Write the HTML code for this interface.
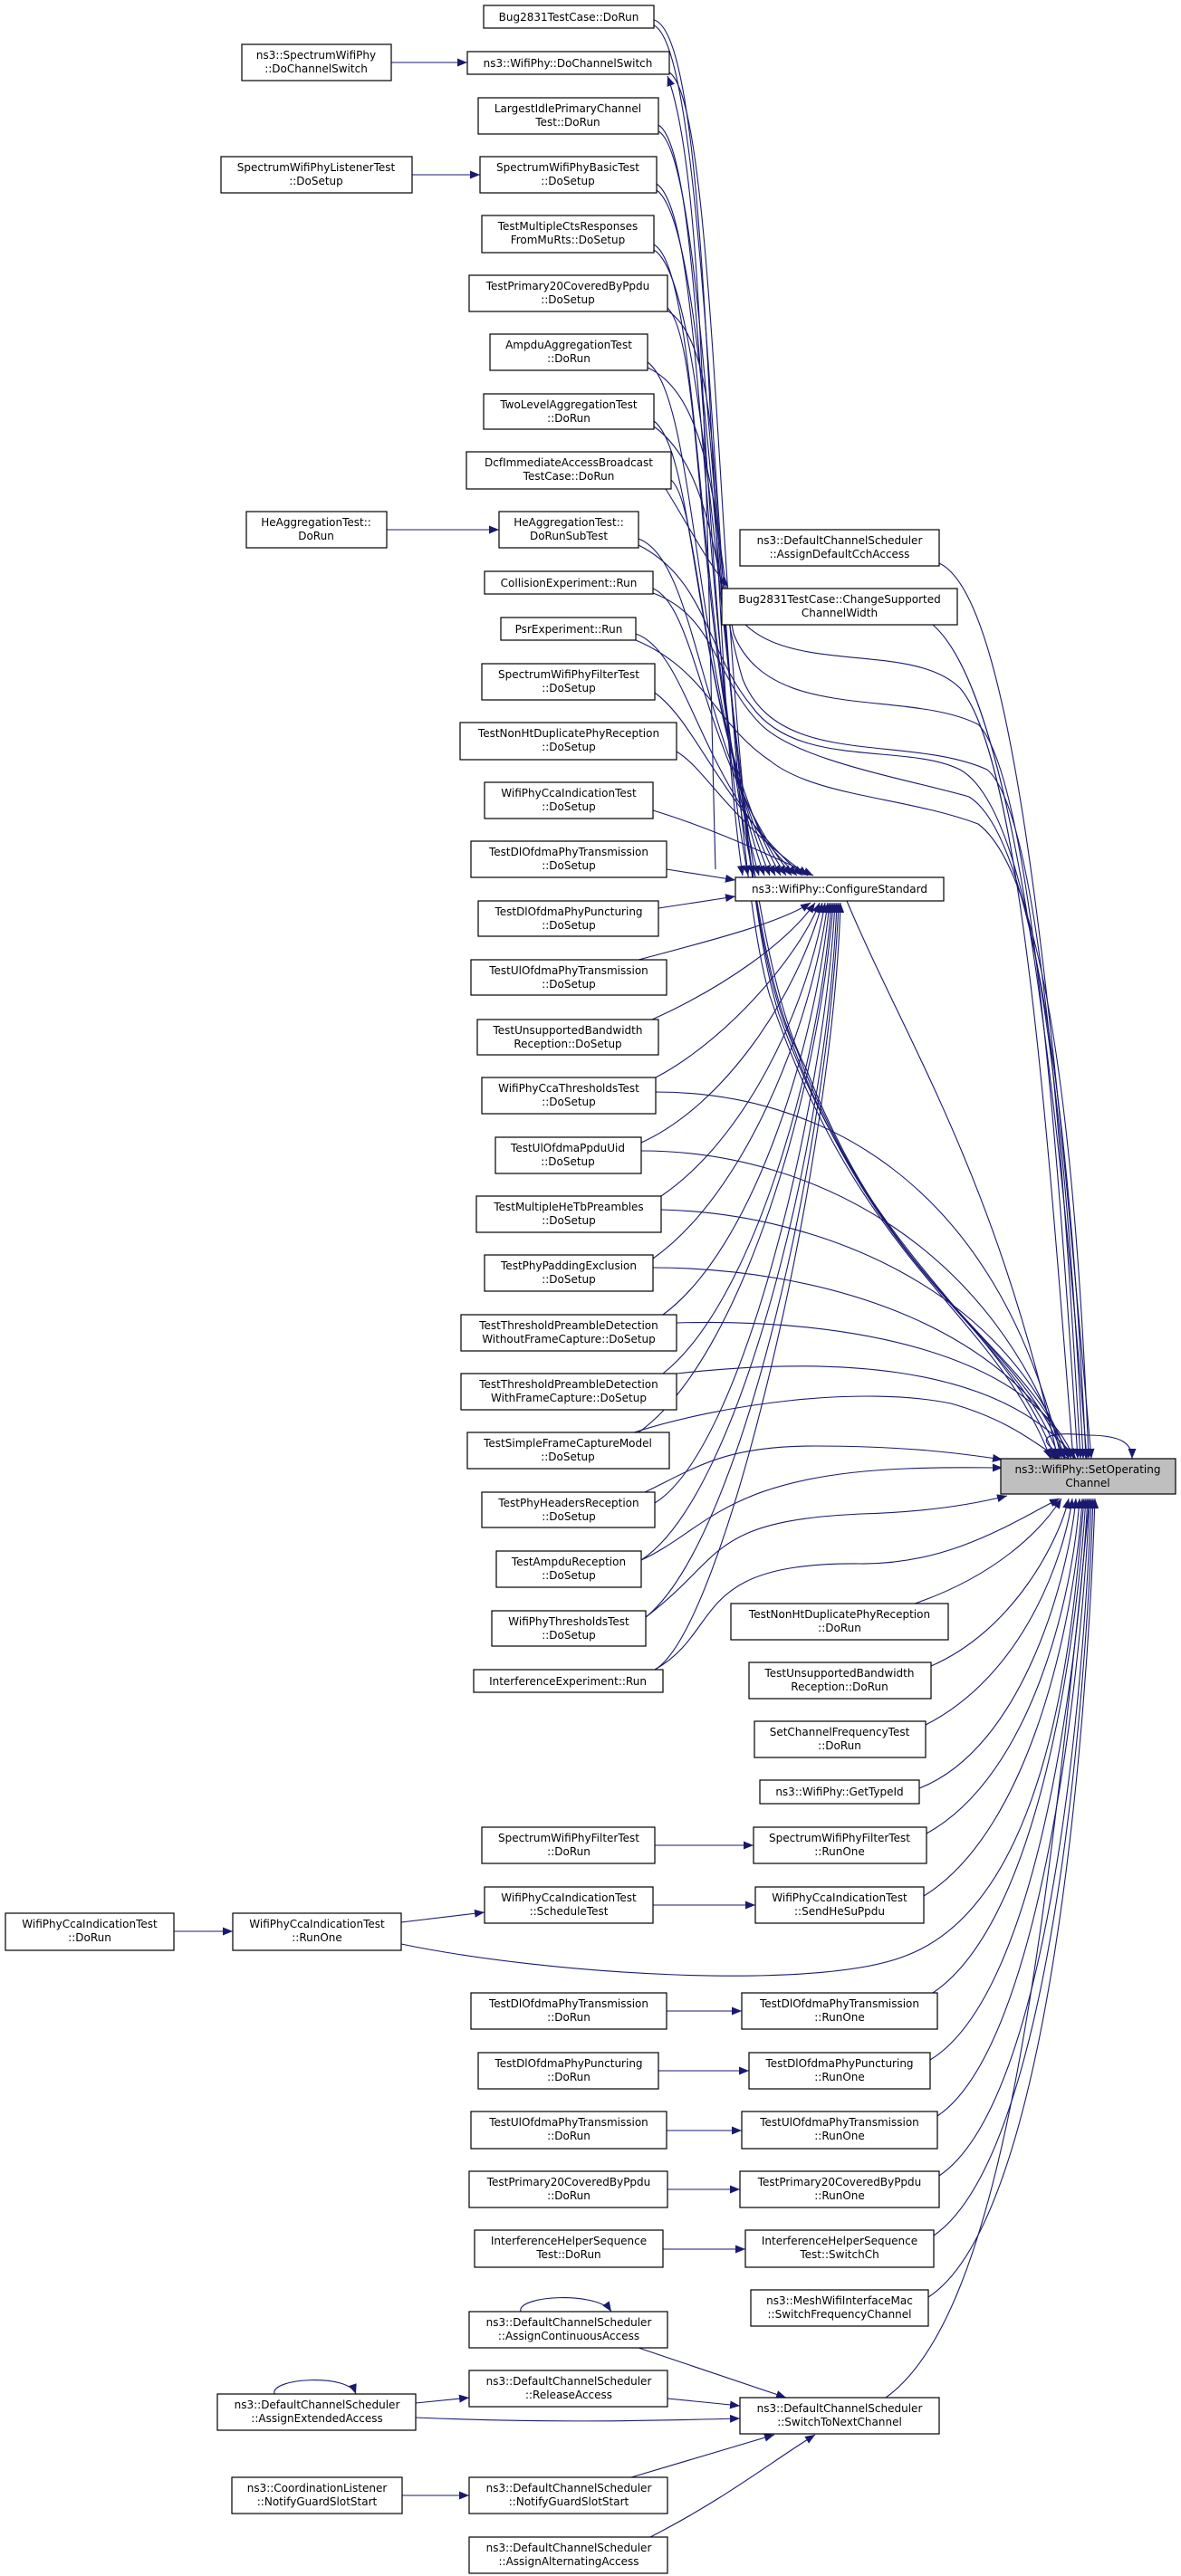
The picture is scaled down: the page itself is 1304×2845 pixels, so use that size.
<!DOCTYPE html>
<html><head><meta charset="utf-8"><style>
html,body{margin:0;padding:0;background:#fff;}
svg{display:block;}
text{font-family:"DejaVu Sans","Liberation Sans",sans-serif;font-size:12px;fill:#000;text-anchor:middle;}
rect{fill:#fff;stroke:#000;stroke-width:1.2;}
path.e{fill:none;stroke:#191970;stroke-width:1.1;}
</style></head><body>
<svg width="1304" height="2845" viewBox="0 0 1304 2845" xmlns="http://www.w3.org/2000/svg">
<defs><marker id="a" markerUnits="userSpaceOnUse" markerWidth="11" markerHeight="9" refX="11" refY="4.5" orient="auto"><path d="M0,0 L11,4.5 L0,9 z" fill="#191970"/></marker></defs>
<g marker-end="url(#a)">
<!-- simple left arrows -->
<path class="e" d="M432,69 L516,69"/>
<path class="e" d="M455,193 L530,193"/>
<path class="e" d="M427,585 L551,585"/>
<path class="e" d="M735,540 C760,580 780,620 804,648"/>
<path class="e" d="M723,2038 L832,2038"/>
<path class="e" d="M721,2104 L834,2104"/>
<path class="e" d="M192,2133 L257,2133"/>
<path class="e" d="M443,2123 L535,2112"/>
<path class="e" d="M736,2221 L819,2221"/>
<path class="e" d="M727,2287 L827,2287"/>
<path class="e" d="M736,2353 L819,2353"/>
<path class="e" d="M737,2418 L817,2418"/>
<path class="e" d="M732,2484 L823,2484"/>
<path class="e" d="M444,2756 L518,2756"/>
<path class="e" d="M459,2654 L518,2648"/>
<path class="e" d="M459,2670 C600,2676 700,2674 817,2671"/>
<path class="e" d="M737,2649 L817,2657"/>
<path class="e" d="M705,2593 L868,2648"/>
<path class="e" d="M697,2736 L855,2689"/>
<path class="e" d="M718,2802 C800,2760 850,2720 900,2689"/>
<path class="e" d="M575,2553 C570,2535 660,2530 675,2553"/>
<path class="e" d="M303,2644 C298,2626 385,2621 393,2644"/>
<!-- up to DoChannelSwitch -->
<path class="e" d="M790,960 C780,600 780,200 737,84"/>
<!-- upper nodes to ConfigureStandard top -->
<path class="e" d="M722,22 C790,40 780,700 820,967"/>
<path class="e" d="M727,138 C780,170 775,700 826,967"/>
<path class="e" d="M725,203 C780,240 772,700 832,967"/>
<path class="e" d="M722,270 C775,300 768,720 838,967"/>
<path class="e" d="M737,340 C780,380 765,740 844,967"/>
<path class="e" d="M715,400 C770,440 765,760 850,967"/>
<path class="e" d="M722,465 C770,500 765,780 856,967"/>
<path class="e" d="M741,530 C775,560 770,800 862,967"/>
<path class="e" d="M705,595 C770,620 770,820 868,967"/>
<path class="e" d="M721,650 C770,670 775,840 874,967"/>
<path class="e" d="M702,700 C760,720 770,860 880,967"/>
<path class="e" d="M723,765 C770,800 790,880 886,967"/>
<path class="e" d="M747,830 C780,850 800,900 892,967"/>
<path class="e" d="M721,895 C770,910 820,930 898,967"/>
<path class="e" d="M736,960 L812,972"/>
<path class="e" d="M727,1003 L812,990"/>
<!-- upper nodes to SetOp via bundle -->
<path class="e" d="M722,28 C790,60 790,900 850,1100 C950,1400 1100,1450 1160,1611"/>
<path class="e" d="M739,80 C800,120 790,900 860,1120 C960,1400 1110,1460 1165,1611"/>
<path class="e" d="M727,145 C790,180 790,950 870,1140 C970,1420 1120,1470 1170,1611"/>
<path class="e" d="M725,210 C795,260 790,980 880,1160 C980,1430 1130,1480 1175,1611"/>
<path class="e" d="M722,276 C795,320 795,1000 890,1180 C990,1440 1140,1490 1180,1611"/>
<path class="e" d="M737,343 C795,380 785,550 800,650 C830,760 1000,700 1060,760 C1130,840 1160,1300 1185,1611"/>
<path class="e" d="M715,406 C790,440 790,600 810,700 C850,800 1000,760 1080,800 C1140,860 1170,1300 1190,1611"/>
<path class="e" d="M722,471 C790,520 790,650 820,750 C860,850 1000,810 1090,850 C1150,900 1175,1300 1193,1611"/>
<path class="e" d="M705,602 C780,640 780,720 830,780 C880,850 1000,820 1060,850 C1150,900 1180,1300 1196,1611"/>
<path class="e" d="M721,655 C790,680 790,750 840,800 C880,840 1000,860 1070,880 C1150,930 1185,1300 1199,1611"/>
<path class="e" d="M702,707 C780,740 790,800 850,840 C900,880 1000,880 1080,910 C1160,970 1190,1300 1202,1611"/>
<path class="e" d="M1037,622 C1120,660 1160,1100 1205,1611"/>
<path class="e" d="M1030,690 C1110,760 1160,1100 1200,1611"/>
<!-- ConfigureStandard to SetOp -->
<path class="e" d="M935,995 C1000,1150 1100,1300 1168,1611"/>
<!-- lower-left to ConfigureStandard bottom -->
<path class="e" d="M705,1060 C780,1040 860,1020 895,997"/>
<path class="e" d="M720,1126 C800,1090 870,1040 900,997"/>
<path class="e" d="M724,1190 C800,1150 880,1060 905,997"/>
<path class="e" d="M708,1262 C800,1220 880,1100 908,997"/>
<path class="e" d="M730,1321 C820,1260 890,1120 911,997"/>
<path class="e" d="M721,1390 C820,1320 895,1140 914,997"/>
<path class="e" d="M732,1452 C830,1380 900,1160 916,997"/>
<path class="e" d="M732,1517 C830,1440 905,1180 918,997"/>
<path class="e" d="M705,1582 C820,1500 905,1200 920,997"/>
<path class="e" d="M723,1660 C820,1600 910,1220 922,997"/>
<path class="e" d="M708,1723 C820,1650 915,1240 924,997"/>
<path class="e" d="M713,1786 C820,1700 915,1260 926,997"/>
<path class="e" d="M723,1844 C800,1800 920,1280 928,997"/>
<!-- lower-left to SetOp -->
<path class="e" d="M724,1206 C900,1206 1100,1300 1172,1611"/>
<path class="e" d="M708,1271 C900,1271 1100,1380 1176,1611"/>
<path class="e" d="M730,1336 C900,1340 1110,1420 1180,1611"/>
<path class="e" d="M721,1400 C900,1400 1110,1460 1183,1611"/>
<path class="e" d="M747,1461 C950,1455 1140,1500 1186,1611"/>
<path class="e" d="M747,1517 C900,1500 1100,1500 1188,1611"/>
<path class="e" d="M700,1582 C800,1550 950,1530 1050,1550 C1120,1570 1150,1600 1170,1611"/>
<path class="e" d="M712,1648 C770,1620 800,1597 900,1597 C1000,1597 1060,1605 1107,1612"/>
<path class="e" d="M708,1723 C780,1690 800,1630 1000,1622 C1050,1620 1080,1621 1107,1621"/>
<path class="e" d="M713,1786 C800,1720 780,1680 950,1672 C1030,1670 1080,1660 1112,1652"/>
<path class="e" d="M723,1844 C800,1800 760,1725 950,1727 C1050,1728 1120,1680 1170,1655"/>
<!-- right-lower to SetOp bottom -->
<path class="e" d="M1010,1771 C1100,1740 1150,1690 1172,1655"/>
<path class="e" d="M1028,1840 C1120,1800 1170,1700 1180,1655"/>
<path class="e" d="M1022,1905 C1130,1850 1175,1720 1184,1655"/>
<path class="e" d="M1015,1975 C1130,1930 1180,1740 1188,1655"/>
<path class="e" d="M1023,2025 C1140,1960 1185,1760 1192,1655"/>
<path class="e" d="M1020,2094 C1140,2020 1188,1780 1195,1655"/>
<path class="e" d="M443,2147 C600,2180 900,2200 1000,2160 C1160,2100 1185,1800 1197,1655"/>
<path class="e" d="M1030,2201 C1150,2120 1190,1800 1199,1655"/>
<path class="e" d="M1027,2275 C1150,2200 1192,1820 1201,1655"/>
<path class="e" d="M1035,2337 C1150,2260 1195,1840 1203,1655"/>
<path class="e" d="M1037,2403 C1160,2320 1197,1860 1205,1655"/>
<path class="e" d="M1031,2469 C1160,2380 1199,1880 1207,1655"/>
<path class="e" d="M1025,2537 C1160,2450 1201,1900 1209,1655"/>
<path class="e" d="M978,2648 C1100,2560 1150,2200 1203,1655"/>
<!-- self loop -->
<path class="e" d="M1180,1611 C1140,1590 1150,1580 1200,1585 C1240,1585 1250,1595 1250,1611"/>
</g>
<!-- nodes -->
<rect x="534" y="6" width="188" height="25"/><text x="628" y="23">Bug2831TestCase::DoRun</text>
<rect x="516" y="57" width="223" height="25"/><text x="627" y="74">ns3::WifiPhy::DoChannelSwitch</text>
<rect x="267" y="49" width="165" height="40"/><text x="349" y="65">ns3::SpectrumWifiPhy</text><text x="349" y="80">::DoChannelSwitch</text>
<rect x="528" y="108" width="199" height="40"/><text x="627" y="124">LargestIdlePrimaryChannel</text><text x="627" y="139">Test::DoRun</text>
<rect x="244" y="173" width="211" height="40"/><text x="349" y="189">SpectrumWifiPhyListenerTest</text><text x="349" y="204">::DoSetup</text>
<rect x="530" y="173" width="195" height="40"/><text x="627" y="189">SpectrumWifiPhyBasicTest</text><text x="627" y="204">::DoSetup</text>
<rect x="532" y="238" width="190" height="41"/><text x="627" y="254">TestMultipleCtsResponses</text><text x="627" y="269">FromMuRts::DoSetup</text>
<rect x="518" y="304" width="219" height="40"/><text x="627" y="320">TestPrimary20CoveredByPpdu</text><text x="627" y="335">::DoSetup</text>
<rect x="541" y="369" width="174" height="40"/><text x="628" y="385">AmpduAggregationTest</text><text x="628" y="400">::DoRun</text>
<rect x="534" y="435" width="188" height="39"/><text x="628" y="451">TwoLevelAggregationTest</text><text x="628" y="466">::DoRun</text>
<rect x="515" y="499" width="226" height="41"/><text x="628" y="515">DcfImmediateAccessBroadcast</text><text x="628" y="530">TestCase::DoRun</text>
<rect x="272" y="565" width="155" height="40"/><text x="349" y="581">HeAggregationTest::</text><text x="349" y="596">DoRun</text>
<rect x="551" y="565" width="154" height="40"/><text x="628" y="581">HeAggregationTest::</text><text x="628" y="596">DoRunSubTest</text>
<rect x="817" y="585" width="220" height="40"/><text x="927" y="601">ns3::DefaultChannelScheduler</text><text x="927" y="616">::AssignDefaultCchAccess</text>
<rect x="535" y="631" width="186" height="25"/><text x="628" y="648">CollisionExperiment::Run</text>
<rect x="797" y="650" width="260" height="40"/><text x="927" y="666">Bug2831TestCase::ChangeSupported</text><text x="927" y="681">ChannelWidth</text>
<rect x="553" y="682" width="149" height="25"/><text x="628" y="699">PsrExperiment::Run</text>
<rect x="532" y="733" width="191" height="40"/><text x="628" y="749">SpectrumWifiPhyFilterTest</text><text x="628" y="764">::DoSetup</text>
<rect x="508" y="798" width="239" height="41"/><text x="628" y="814">TestNonHtDuplicatePhyReception</text><text x="628" y="829">::DoSetup</text>
<rect x="535" y="864" width="186" height="40"/><text x="628" y="880">WifiPhyCcaIndicationTest</text><text x="628" y="895">::DoSetup</text>
<rect x="520" y="929" width="216" height="40"/><text x="628" y="945">TestDlOfdmaPhyTransmission</text><text x="628" y="960">::DoSetup</text>
<rect x="812" y="969" width="230" height="26"/><text x="927" y="986">ns3::WifiPhy::ConfigureStandard</text>
<rect x="528" y="995" width="199" height="39"/><text x="628" y="1011">TestDlOfdmaPhyPuncturing</text><text x="628" y="1026">::DoSetup</text>
<rect x="520" y="1060" width="216" height="39"/><text x="628" y="1076">TestUlOfdmaPhyTransmission</text><text x="628" y="1091">::DoSetup</text>
<rect x="527" y="1126" width="200" height="39"/><text x="627" y="1142">TestUnsupportedBandwidth</text><text x="627" y="1157">Reception::DoSetup</text>
<rect x="532" y="1190" width="192" height="40"/><text x="628" y="1206">WifiPhyCcaThresholdsTest</text><text x="628" y="1221">::DoSetup</text>
<rect x="547" y="1256" width="161" height="40"/><text x="627" y="1272">TestUlOfdmaPpduUid</text><text x="627" y="1287">::DoSetup</text>
<rect x="526" y="1321" width="204" height="40"/><text x="628" y="1337">TestMultipleHeTbPreambles</text><text x="628" y="1352">::DoSetup</text>
<rect x="535" y="1386" width="186" height="40"/><text x="628" y="1402">TestPhyPaddingExclusion</text><text x="628" y="1417">::DoSetup</text>
<rect x="509" y="1452" width="238" height="40"/><text x="628" y="1468">TestThresholdPreambleDetection</text><text x="628" y="1483">WithoutFrameCapture::DoSetup</text>
<rect x="509" y="1517" width="238" height="40"/><text x="628" y="1533">TestThresholdPreambleDetection</text><text x="628" y="1548">WithFrameCapture::DoSetup</text>
<rect x="516" y="1582" width="223" height="40"/><text x="627" y="1598">TestSimpleFrameCaptureModel</text><text x="627" y="1613">::DoSetup</text>
<rect x="1105" y="1611" width="193" height="39" style="fill:#bfbfbf"/><text x="1201" y="1627">ns3::WifiPhy::SetOperating</text><text x="1201" y="1642">Channel</text>
<rect x="532" y="1648" width="191" height="39"/><text x="628" y="1664">TestPhyHeadersReception</text><text x="628" y="1679">::DoSetup</text>
<rect x="548" y="1713" width="160" height="40"/><text x="628" y="1729">TestAmpduReception</text><text x="628" y="1744">::DoSetup</text>
<rect x="807" y="1771" width="240" height="40"/><text x="927" y="1787">TestNonHtDuplicatePhyReception</text><text x="927" y="1802">::DoRun</text>
<rect x="543" y="1779" width="170" height="39"/><text x="628" y="1795">WifiPhyThresholdsTest</text><text x="628" y="1810">::DoSetup</text>
<rect x="523" y="1844" width="209" height="25"/><text x="627" y="1861">InterferenceExperiment::Run</text>
<rect x="827" y="1836" width="201" height="40"/><text x="927" y="1852">TestUnsupportedBandwidth</text><text x="927" y="1867">Reception::DoRun</text>
<rect x="833" y="1901" width="189" height="40"/><text x="927" y="1917">SetChannelFrequencyTest</text><text x="927" y="1932">::DoRun</text>
<rect x="839" y="1966" width="176" height="26"/><text x="927" y="1983">ns3::WifiPhy::GetTypeId</text>
<rect x="532" y="2018" width="191" height="40"/><text x="628" y="2034">SpectrumWifiPhyFilterTest</text><text x="628" y="2049">::DoRun</text>
<rect x="832" y="2018" width="191" height="40"/><text x="927" y="2034">SpectrumWifiPhyFilterTest</text><text x="927" y="2049">::RunOne</text>
<rect x="535" y="2084" width="186" height="40"/><text x="628" y="2100">WifiPhyCcaIndicationTest</text><text x="628" y="2115">::ScheduleTest</text>
<rect x="834" y="2084" width="186" height="40"/><text x="927" y="2100">WifiPhyCcaIndicationTest</text><text x="927" y="2115">::SendHeSuPpdu</text>
<rect x="6" y="2113" width="186" height="41"/><text x="99" y="2129">WifiPhyCcaIndicationTest</text><text x="99" y="2144">::DoRun</text>
<rect x="257" y="2113" width="186" height="41"/><text x="350" y="2129">WifiPhyCcaIndicationTest</text><text x="350" y="2144">::RunOne</text>
<rect x="520" y="2201" width="216" height="40"/><text x="628" y="2217">TestDlOfdmaPhyTransmission</text><text x="628" y="2232">::DoRun</text>
<rect x="819" y="2201" width="216" height="40"/><text x="927" y="2217">TestDlOfdmaPhyTransmission</text><text x="927" y="2232">::RunOne</text>
<rect x="528" y="2267" width="199" height="40"/><text x="628" y="2283">TestDlOfdmaPhyPuncturing</text><text x="628" y="2298">::DoRun</text>
<rect x="827" y="2267" width="200" height="40"/><text x="927" y="2283">TestDlOfdmaPhyPuncturing</text><text x="927" y="2298">::RunOne</text>
<rect x="520" y="2332" width="216" height="41"/><text x="628" y="2348">TestUlOfdmaPhyTransmission</text><text x="628" y="2363">::DoRun</text>
<rect x="819" y="2332" width="216" height="41"/><text x="927" y="2348">TestUlOfdmaPhyTransmission</text><text x="927" y="2363">::RunOne</text>
<rect x="518" y="2398" width="219" height="40"/><text x="628" y="2414">TestPrimary20CoveredByPpdu</text><text x="628" y="2429">::DoRun</text>
<rect x="817" y="2398" width="220" height="40"/><text x="927" y="2414">TestPrimary20CoveredByPpdu</text><text x="927" y="2429">::RunOne</text>
<rect x="524" y="2463" width="208" height="41"/><text x="628" y="2479">InterferenceHelperSequence</text><text x="628" y="2494">Test::DoRun</text>
<rect x="823" y="2463" width="208" height="41"/><text x="927" y="2479">InterferenceHelperSequence</text><text x="927" y="2494">Test::SwitchCh</text>
<rect x="829" y="2529" width="196" height="40"/><text x="927" y="2545">ns3::MeshWifiInterfaceMac</text><text x="927" y="2560">::SwitchFrequencyChannel</text>
<rect x="518" y="2553" width="219" height="40"/><text x="628" y="2569">ns3::DefaultChannelScheduler</text><text x="628" y="2584">::AssignContinuousAccess</text>
<rect x="518" y="2618" width="219" height="40"/><text x="628" y="2634">ns3::DefaultChannelScheduler</text><text x="628" y="2649">::ReleaseAccess</text>
<rect x="240" y="2644" width="219" height="40"/><text x="350" y="2660">ns3::DefaultChannelScheduler</text><text x="350" y="2675">::AssignExtendedAccess</text>
<rect x="817" y="2648" width="220" height="40"/><text x="927" y="2664">ns3::DefaultChannelScheduler</text><text x="927" y="2679">::SwitchToNextChannel</text>
<rect x="256" y="2736" width="188" height="40"/><text x="350" y="2752">ns3::CoordinationListener</text><text x="350" y="2767">::NotifyGuardSlotStart</text>
<rect x="518" y="2736" width="219" height="40"/><text x="628" y="2752">ns3::DefaultChannelScheduler</text><text x="628" y="2767">::NotifyGuardSlotStart</text>
<rect x="518" y="2802" width="219" height="40"/><text x="628" y="2818">ns3::DefaultChannelScheduler</text><text x="628" y="2833">::AssignAlternatingAccess</text>
</svg>
</body></html>
